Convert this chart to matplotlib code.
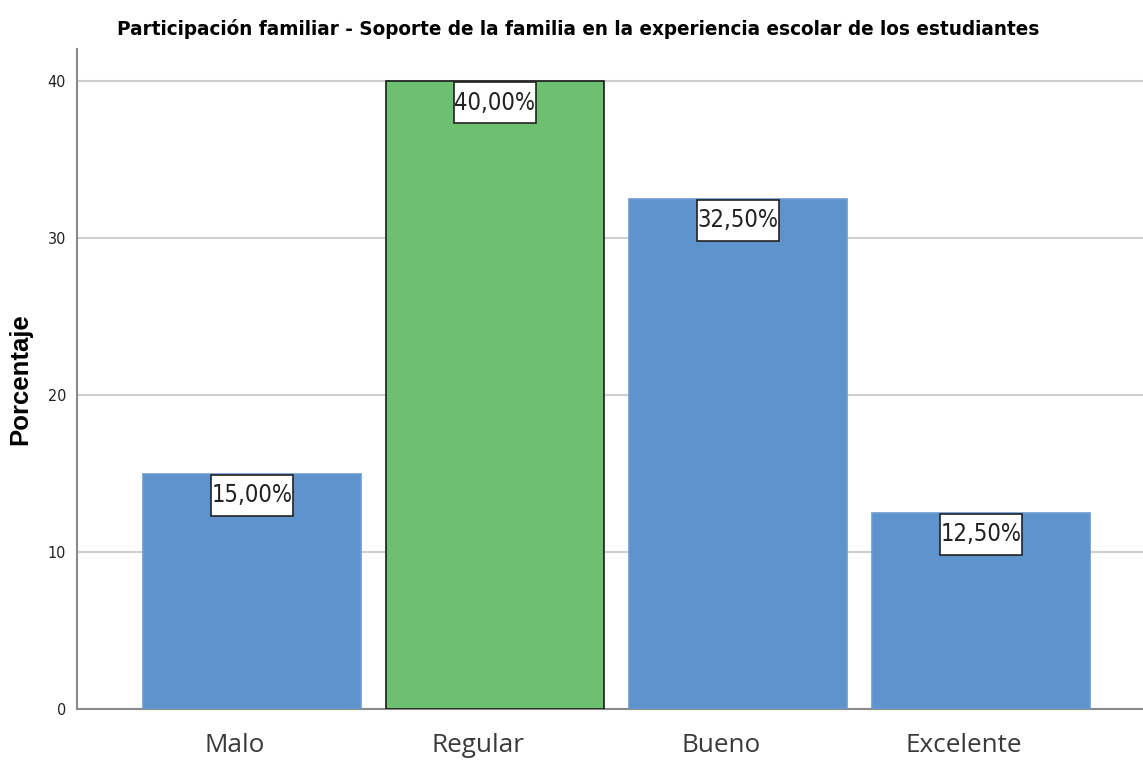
import matplotlib
matplotlib.use("Agg")
import matplotlib.pyplot as plt
from matplotlib import font_manager
from matplotlib.font_manager import FontProperties
from matplotlib.textpath import TextPath
from matplotlib.path import Path

categories = ["Malo", "Regular", "Bueno", "Excelente"]
values = [15.0, 40.0, 32.5, 12.5]
labels = ["15,00%", "40,00%", "32,50%", "12,50%"]
yticks = [0, 10, 20, 30, 40]
title = "Participación familiar - Soporte de la familia en la experiencia escolar de los estudiantes"


def narrow_prop(bold=False):
    """Return a FontProperties for a condensed/narrow font, by file if possible."""
    want_w = 700 if bold else 400
    best = None
    for f in font_manager.fontManager.ttflist:
        w = f.weight if isinstance(f.weight, int) else (700 if "bold" in str(f.weight) else 400)
        if f.style != "normal" or w != want_w:
            continue
        if f.name == "Liberation Sans Narrow":
            return f.fname
        if f.name == "DejaVu Sans" and f.stretch in ("condensed", "semi-condensed") and best is None:
            best = f.fname
    return best


reg_file = narrow_prop(False)
bold_file = narrow_prop(True)


def fp_reg(size):
    if reg_file:
        return FontProperties(fname=reg_file, size=size)
    return FontProperties(family="Roboto", size=size)


def fp_bold(size):
    if bold_file:
        return FontProperties(fname=bold_file, size=size)
    return FontProperties(family="Roboto", weight="bold", size=size)


def fit(fp, text, target_px, dpi=100):
    w = TextPath((0, 0), text, prop=fp).get_extents().width
    return fp.get_size_in_points() * target_px / (w * dpi / 72.0)


blue = "#5f93cc"
green = "#6cc070"
colors = [blue, green, blue, blue]
edges = ["#6a9bd2", "#1a1a1a", "#6a9bd2", "#6a9bd2"]

fig = plt.figure(figsize=(11.43, 7.6), dpi=100)
ax = fig.add_axes([77/1143, 1-709/760, (1143-77)/1143, (709-49)/760])

x = list(range(len(categories)))
ax.bar(x, values, width=0.897, color=colors, edgecolor=edges, linewidth=1.2, zorder=3)

ax.set_xlim(-0.72, 3.667)
ax.set_ylim(0, 42.04)
ax.set_yticks(yticks)
ax.set_yticklabels([str(t) for t in yticks], fontproperties=fp_reg(11.5), color="#222222")
ax.set_xticks(x)
ax.set_xticklabels([""] * len(categories))
xfp = FontProperties(family="Open Sans", weight="medium", size=10)
xt_size = fit(xfp, "Regular", 90)
for xi, cat in zip(x, categories):
    ax.annotate(cat, xy=(xi, 0), xycoords=("data", "axes fraction"), xytext=(-17, -43),
                textcoords="offset pixels", ha="center", va="baseline",
                fontfamily="Open Sans", fontweight="medium", fontsize=xt_size, color="#3a3a3a")
ax.tick_params(axis="x", length=0)
ax.tick_params(axis="y", length=0, pad=8)

ax.grid(axis="y", color="#cfcfcf", linewidth=1.5, zorder=0)
for s in ["top", "right"]:
    ax.spines[s].set_visible(False)
for s in ["left", "bottom"]:
    ax.spines[s].set_color("#8a8a8a")
    ax.spines[s].set_linewidth(1.5)

BOX_W, BOX_H = 82, 41


def fixed_box(x0, y0, width, height, mutation_size):
    cx = x0 + width / 2
    cy = y0 + height / 2
    l, r = cx - BOX_W / 2, cx + BOX_W / 2
    b, t = cy - BOX_H / 2, cy + BOX_H / 2
    return Path([(l, b), (r, b), (r, t), (l, t), (l, b)],
                [Path.MOVETO, Path.LINETO, Path.LINETO, Path.LINETO, Path.CLOSEPOLY])


lab_size = fit(fp_reg(10), "40,00%", 79)
for xi, v, lab in zip(x, values, labels):
    ax.annotate(lab, xy=(xi, v), xytext=(0, -BOX_H / 2 - 1), textcoords="offset pixels",
                ha="center", va="center", color="#222222", fontproperties=fp_reg(lab_size),
                bbox=dict(boxstyle=fixed_box, facecolor="white", edgecolor="#222222", linewidth=1.2),
                zorder=5)

ax.set_ylabel("Porcentaje", fontfamily="Liberation Sans", fontweight="bold", fontsize=18.5, labelpad=11)
t_size = fit(fp_bold(10), title, 920)
fig.text(0.506, 0.962, title, ha="center", va="center", fontproperties=fp_bold(t_size))

fig.savefig("out.png", dpi=100)
